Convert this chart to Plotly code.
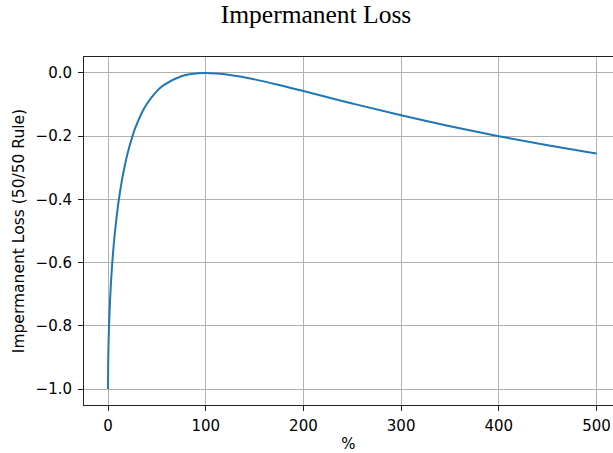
import plotly.graph_objects as go

# Price change of one asset (%) and the resulting impermanent loss for a 50/50 pool
price_change_pct = [0, 0.1, 0.3, 0.5, 1, 2, 3, 4, 5, 7, 10, 12, 15, 20, 25, 28, 35,
                    40, 50, 57, 75, 85, 100, 125, 150, 175, 200, 250, 300, 350,
                    400, 450, 500]
impermanent_loss = [-1.0, -0.937, -0.8908, -0.8593, -0.8020, -0.7227, -0.6637,
                    -0.6154, -0.5741, -0.5055, -0.4250, -0.3814, -0.3264, -0.2546,
                    -0.2000, -0.1732, -0.1235, -0.0965, -0.0572, -0.0382, -0.0103,
                    -0.0033, 0.0, -0.0062, -0.0202, -0.0379, -0.0572, -0.0965,
                    -0.1340, -0.1685, -0.2000, -0.2286, -0.2546]

x_ticks = [0, 100, 200, 300, 400, 500]
y_ticks = [0.0, -0.2, -0.4, -0.6, -0.8, -1.0]
y_tick_text = ["0.0", "\u22120.2", "\u22120.4", "\u22120.6", "\u22120.8", "\u22121.0"]

fig = go.Figure()
fig.add_trace(go.Scatter(
    x=price_change_pct, y=impermanent_loss, mode="lines",
    line=dict(color="#1f77b4", width=2), line_shape="spline",
    showlegend=False,
))

tick_font = dict(family="DejaVu Sans", size=15, color="black")
label_font = dict(family="DejaVu Sans", size=15.5, color="black")
fig.update_layout(
    width=613, height=453,
    margin=dict(l=84, r=0, t=57, b=48),
    paper_bgcolor="white", plot_bgcolor="white",
    font=tick_font,
    title=dict(text="Impermanent Loss", x=316 / 613, xanchor="center",
               y=1 - 14 / 453, yanchor="middle",
               font=dict(family="Liberation Serif", size=25.5, color="black")),
)
fig.update_xaxes(
    range=[-24.6, 516.9], tickvals=x_ticks, ticks="outside", ticklen=5,
    tickcolor="#222", showline=True, linecolor="#222", linewidth=1, mirror=True,
    showgrid=True, gridcolor="#b0b0b0", gridwidth=1, zeroline=False,
    ticklabelstandoff=2,
    title=dict(text="%", standoff=4, font=tick_font), tickfont=tick_font,
)
fig.update_yaxes(
    range=[-1.0506, 0.0506], tickvals=y_ticks, ticktext=y_tick_text,
    ticks="outside", ticklen=5, tickcolor="#222", showline=True,
    linecolor="#222", linewidth=1, ticklabelstandoff=3,
    showgrid=True, gridcolor="#b0b0b0", gridwidth=1, zeroline=False,
    title=dict(text="Impermanent Loss (50/50 Rule)", standoff=7, font=label_font),
    tickfont=tick_font,
)

fig.write_html("out.html")
